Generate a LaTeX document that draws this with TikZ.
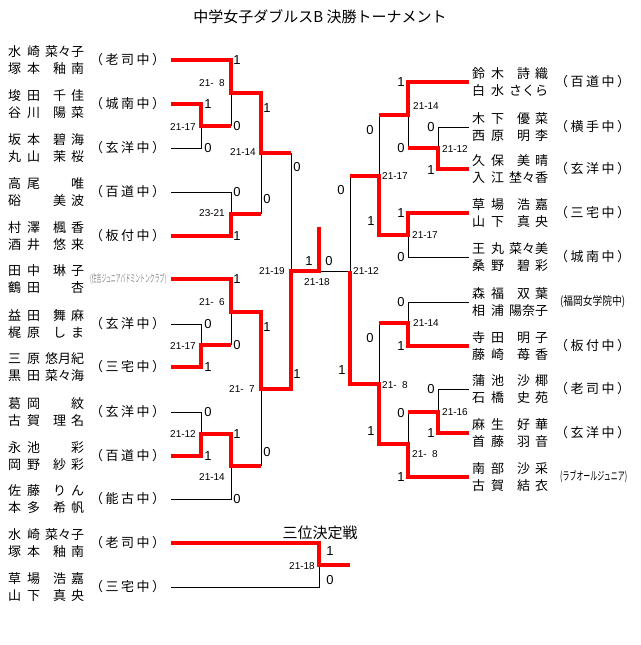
\documentclass[tikz,border=0pt]{standalone}
\usepackage{fontspec}
\usepackage{graphicx}
\newfontfamily\jp{Noto Sans CJK JP}
\newfontfamily\num{Liberation Sans}
% one line of a pair: surname box, given name box
\newcommand\nmline[2]{\hbox to 76pt{\hbox to 32pt{#1}\hfil\hbox to 31pt{#2}}}
\newcommand\pair[4]{\nmline{#1}{#2}\\\nmline{#3}{#4}}
\newcommand\sch[3]{\hbox to 75pt{（\hfil #1\hfil #2\hfil #3\hfil ）}}
\newcommand\gp{\hfil}
\tikzset{
  win/.style={draw=red, line width=3.5pt, line join=miter},
  lose/.style={draw=black, line width=0.8pt},
  team/.style={anchor=west, inner sep=0pt, align=left, font=\jp\fontsize{13}{17}\selectfont},
  school/.style={anchor=west, inner sep=0pt, font=\jp\fontsize{13}{15}\selectfont},
  score/.style={inner sep=0pt, font=\num\fontsize{10}{10}\selectfont},
  pt/.style={inner sep=0pt, font=\num\fontsize{13}{13}\selectfont}
}
\begin{document}
\begin{tikzpicture}[x=1pt, y=-1pt]
\useasboundingbox (0,0) rectangle (640,645);
\fill[white] (0,0) rectangle (640,645);

\node[font=\jp\fontsize{15}{15}\selectfont] (title) at (320,17) {中学女子ダブルスB 決勝トーナメント};

% left teams
\node[team] (ta1) at (8,60) {\pair{水\gp 崎}{\hss 菜々子}{塚\gp 本}{釉\gp 南}};
\node[team] (ta2) at (8,104) {\pair{埈\gp 田}{千\gp 佳}{谷\gp 川}{陽\gp 菜}};
\node[team] (ta3) at (8,148) {\pair{坂\gp 本}{碧\gp 海}{丸\gp 山}{茉\gp 桜}};
\node[team] (ta4) at (8,192) {\pair{高\gp 尾}{\gp 唯}{硲\gp}{美\gp 波}};
\node[team] (ta5) at (8,236) {\pair{村\gp 澤}{楓\gp 香}{酒\gp 井}{悠\gp 来}};
\node[team] (ta6) at (8,279) {\pair{田\gp 中}{琳\gp 子}{鶴\gp 田}{\gp 杏}};
\node[team] (ta7) at (8,324) {\pair{益\gp 田}{舞\gp 麻}{梶\gp 原}{し\gp ま}};
\node[team] (ta8) at (8,367) {\pair{三\gp 原}{\hss 悠月紀}{黒\gp 田}{\hss 菜々海}};
\node[team] (ta9) at (8,412) {\pair{葛\gp 岡}{\gp 紋}{古\gp 賀}{理\gp 名}};
\node[team] (ta10) at (8,456) {\pair{永\gp 池}{\gp 彩}{岡\gp 野}{紗\gp 彩}};
\node[team] (ta11) at (8,499) {\pair{佐\gp 藤}{り\gp ん}{本\gp 多}{希\gp 帆}};
\node[school] (sa1) at (90,60) {\sch{老}{司}{中}};
\node[school] (sa2) at (90,104) {\sch{城}{南}{中}};
\node[school] (sa3) at (90,148) {\sch{玄}{洋}{中}};
\node[school] (sa4) at (90,192) {\sch{百}{道}{中}};
\node[school] (sa5) at (90,236) {\sch{板}{付}{中}};
\node[school, text=gray] (sa6) at (90,279) {\resizebox{76pt}{9pt}{(住吉ジュニアバドミントンクラブ)}};
\node[school] (sa7) at (90,324) {\sch{玄}{洋}{中}};
\node[school] (sa8) at (90,367) {\sch{三}{宅}{中}};
\node[school] (sa9) at (90,412) {\sch{玄}{洋}{中}};
\node[school] (sa10) at (90,456) {\sch{百}{道}{中}};
\node[school] (sa11) at (90,499) {\sch{能}{古}{中}};

% right teams
\node[team] (tb1) at (472,82) {\pair{鈴\gp 木}{詩\gp 織}{白\gp 水}{\hss さくら}};
\node[team] (tb2) at (472,127) {\pair{木\gp 下}{優\gp 菜}{西\gp 原}{明\gp 李}};
\node[team] (tb3) at (472,169) {\pair{久\gp 保}{美\gp 晴}{入\gp 江}{\hss 埜々香}};
\node[team] (tb4) at (472,213) {\pair{草\gp 場}{浩\gp 嘉}{山\gp 下}{真\gp 央}};
\node[team] (tb5) at (472,257) {\pair{王\gp 丸}{\hss 菜々美}{桑\gp 野}{碧\gp 彩}};
\node[team] (tb6) at (472,302) {\pair{森\gp 福}{双\gp 葉}{相\gp 浦}{\hss 陽奈子}};
\node[team] (tb7) at (472,346) {\pair{寺\gp 田}{明\gp 子}{藤\gp 崎}{苺\gp 香}};
\node[team] (tb8) at (472,389) {\pair{蒲\gp 池}{沙\gp 椰}{石\gp 橋}{史\gp 苑}};
\node[team] (tb9) at (472,433) {\pair{麻\gp 生}{好\gp 華}{首\gp 藤}{羽\gp 音}};
\node[team] (tb10) at (472,477) {\pair{南\gp 部}{沙\gp 采}{古\gp 賀}{結\gp 衣}};
\node[school] (sb1) at (555,82) {\sch{百}{道}{中}};
\node[school] (sb2) at (555,127) {\sch{横}{手}{中}};
\node[school] (sb3) at (555,169) {\sch{玄}{洋}{中}};
\node[school] (sb4) at (555,213) {\sch{三}{宅}{中}};
\node[school] (sb5) at (555,257) {\sch{城}{南}{中}};
\node[school] (sb6) at (560,302) {\resizebox{65pt}{10pt}{(福岡女学院中)}};
\node[school] (sb7) at (555,346) {\sch{板}{付}{中}};
\node[school] (sb8) at (555,389) {\sch{老}{司}{中}};
\node[school] (sb9) at (555,433) {\sch{玄}{洋}{中}};
\node[school] (sb10) at (560,477) {\resizebox{67pt}{10pt}{(ラブオールジュニア)}};

% third place teams
\node[team] (tc1) at (8,543) {\pair{水\gp 崎}{\hss 菜々子}{塚\gp 本}{釉\gp 南}};
\node[team] (tc2) at (8,587) {\pair{草\gp 場}{浩\gp 嘉}{山\gp 下}{真\gp 央}};
\node[school] (sc1) at (90,543) {\sch{老}{司}{中}};
\node[school] (sc2) at (90,587) {\sch{三}{宅}{中}};
\node[font=\jp\fontsize{15}{15}\selectfont] (third) at (320,533) {三位決定戦};

% line ends
\coordinate (a1) at (171,60);  \coordinate (a2) at (171,104);
\coordinate (a3) at (171,148); \coordinate (a4) at (171,192);
\coordinate (a5) at (171,236); \coordinate (a6) at (171,279);
\coordinate (a7) at (171,324); \coordinate (a8) at (171,367);
\coordinate (a9) at (171,412); \coordinate (a10) at (171,456);
\coordinate (a11) at (171,499);
\coordinate (b1) at (469,82);  \coordinate (b2) at (469,127);
\coordinate (b3) at (469,169); \coordinate (b4) at (469,213);
\coordinate (b5) at (469,257); \coordinate (b6) at (469,302);
\coordinate (b7) at (469,346); \coordinate (b8) at (469,389);
\coordinate (b9) at (469,433); \coordinate (b10) at (469,477);
\coordinate (c1) at (171,543); \coordinate (c2) at (171,587);

% losing lines
\draw[lose] (a3) -| (201,126);
\draw[lose] (231,126) -- (231,93);
\draw[lose] (a4) -| (231,214);
\draw[lose] (261,214) -- (261,153);
\draw[lose] (291,153) -- (291,271);
\draw[lose] (a7) -| (201,345);
\draw[lose] (231,345) -- (231,312);
\draw[lose] (a9) -| (201,434);
\draw[lose] (a11) -| (231,466);
\draw[lose] (261,466) -- (261,389);
\draw[lose] (319,271) -- (350,271);
\draw[lose] (b2) -| (438,148);
\draw[lose] (408,148) -- (408,115);
\draw[lose] (379,115) -- (379,176);
\draw[lose] (b5) -| (408,235);
\draw[lose] (350,176) -- (350,271);
\draw[lose] (b6) -| (408,323);
\draw[lose] (379,323) -- (379,384);
\draw[lose] (b8) -| (438,412);
\draw[lose] (408,412) -- (408,444);
\draw[lose] (c2) -| (319,565);

% winning lines
\draw[win] (a1) -| (231,93) -| (261,153) -- (291,153);
\draw[win] (a2) -| (201,126) -- (231,126);
\draw[win] (a5) -| (231,214) -- (261,214);
\draw[win] (a6) -| (231,312) -| (261,389) -| (291,271) -| (319,227);
\draw[win] (a8) -| (201,345) -- (231,345);
\draw[win] (a10) -| (201,434) -| (231,466) -- (261,466);
\draw[win] (b1) -| (408,115) -- (379,115);
\draw[win] (b3) -| (438,148) -- (408,148);
\draw[win] (b4) -| (408,235) -| (379,176) -- (350,176);
\draw[win] (b7) -| (408,323) -- (379,323);
\draw[win] (b9) -| (438,412) -- (408,412);
\draw[win] (b10) -| (408,444) -| (379,384) -| (350,271);
\draw[win] (c1) -| (319,565) -- (350,565);

% scores
\node[score] at (212,83) {21-\phantom{0}8};
\node[score] at (183,127) {21-17};
\node[score] at (212,213) {23-21};
\node[score] at (243,152) {21-14};
\node[score] at (212,302) {21-\phantom{0}6};
\node[score] at (183,346) {21-17};
\node[score] at (183,434) {21-12};
\node[score] at (212,477) {21-14};
\node[score] at (242,389) {21-\phantom{0}7};
\node[score] at (272,271) {21-19};
\node[score] at (317,282) {21-18};
\node[score] at (366,271) {21-12};
\node[score] at (395,176) {21-17};
\node[score] at (426,106) {21-14};
\node[score] at (455,149) {21-12};
\node[score] at (425,235) {21-17};
\node[score] at (395,385) {21-\phantom{0}8};
\node[score] at (426,323) {21-14};
\node[score] at (455,412) {21-16};
\node[score] at (425,454) {21-\phantom{0}8};
\node[score] at (302,566) {21-18};

% points
\node[pt] at (237,60) {1};  \node[pt] at (237,126) {0};
\node[pt] at (208,104) {1}; \node[pt] at (208,148) {0};
\node[pt] at (237,192) {0}; \node[pt] at (237,236) {1};
\node[pt] at (267,108) {1}; \node[pt] at (267,199) {0};
\node[pt] at (297,167) {0}; \node[pt] at (297,374) {1};
\node[pt] at (237,279) {1}; \node[pt] at (237,345) {0};
\node[pt] at (208,324) {0}; \node[pt] at (208,367) {1};
\node[pt] at (208,412) {0}; \node[pt] at (208,456) {1};
\node[pt] at (237,434) {1}; \node[pt] at (237,499) {0};
\node[pt] at (267,327) {1}; \node[pt] at (267,452) {0};
\node[pt] at (309,261) {1}; \node[pt] at (329,261) {0};
\node[pt] at (401,82) {1};  \node[pt] at (401,148) {0};
\node[pt] at (431,127) {0}; \node[pt] at (431,170) {1};
\node[pt] at (401,213) {1}; \node[pt] at (401,257) {0};
\node[pt] at (370,130) {0}; \node[pt] at (371,221) {1};
\node[pt] at (401,302) {0}; \node[pt] at (401,346) {1};
\node[pt] at (431,389) {0}; \node[pt] at (431,433) {1};
\node[pt] at (401,413) {0}; \node[pt] at (401,477) {1};
\node[pt] at (370,338) {0}; \node[pt] at (371,431) {1};
\node[pt] at (341,190) {0}; \node[pt] at (342,370) {1};
\node[pt] at (330,551) {1}; \node[pt] at (330,580) {0};
\end{tikzpicture}
\end{document}
